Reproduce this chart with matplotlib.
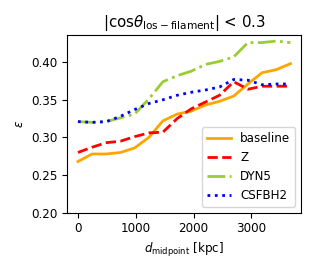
import numpy as np
import matplotlib
matplotlib.use('Agg')
import matplotlib.pyplot as plt

# midpoint distances [kpc]
d_mid = np.arange(16) * 245

baseline = [0.268, 0.278, 0.278, 0.280, 0.286, 0.300, 0.322, 0.331,
            0.335, 0.343, 0.348, 0.355, 0.371, 0.386, 0.390, 0.398]
z_run = [0.280, 0.287, 0.293, 0.295, 0.301, 0.306, 0.307, 0.325,
         0.338, 0.347, 0.356, 0.374, 0.364, 0.368, 0.368, 0.368]
dyn5 = [0.321, 0.320, 0.321, 0.326, 0.331, 0.351, 0.374, 0.382,
        0.388, 0.397, 0.401, 0.407, 0.426, 0.426, 0.428, 0.426]
csfbh2 = [0.321, 0.320, 0.321, 0.328, 0.337, 0.345, 0.350, 0.356,
          0.360, 0.363, 0.367, 0.377, 0.376, 0.370, 0.371, 0.371]

plt.rcParams['font.size'] = 8.6

fig = plt.figure(figsize=(3.15, 2.7), dpi=100)
ax = fig.add_axes([0.2137, 0.2122, 0.742, 0.658])

ax.plot(d_mid, baseline, '-', color='orange', lw=2, label='baseline')
ax.plot(d_mid, z_run, '--', color='r', lw=2, label='Z')
ax.plot(d_mid, dyn5, '-.', color='yellowgreen', lw=2, label='DYN5')
ax.plot(d_mid, csfbh2, ':', color='b', lw=2, label='CSFBH2')

ax.set_ylim(0.2, 0.436)
ax.set_yticks([0.20, 0.25, 0.30, 0.35, 0.40])
ax.set_xticks([0, 1000, 2000, 3000])
ax.set_xlabel(r'$d_{\rm midpoint}$ [kpc]')
ax.set_ylabel(r'$\varepsilon$')
ax.set_title(r'$|{\rm cos}\theta_{{\rm los}-{\rm filament}}|$ < 0.3', fontsize=10.8)
ax.legend(loc='lower right')

fig.savefig('out.png', dpi=100)
